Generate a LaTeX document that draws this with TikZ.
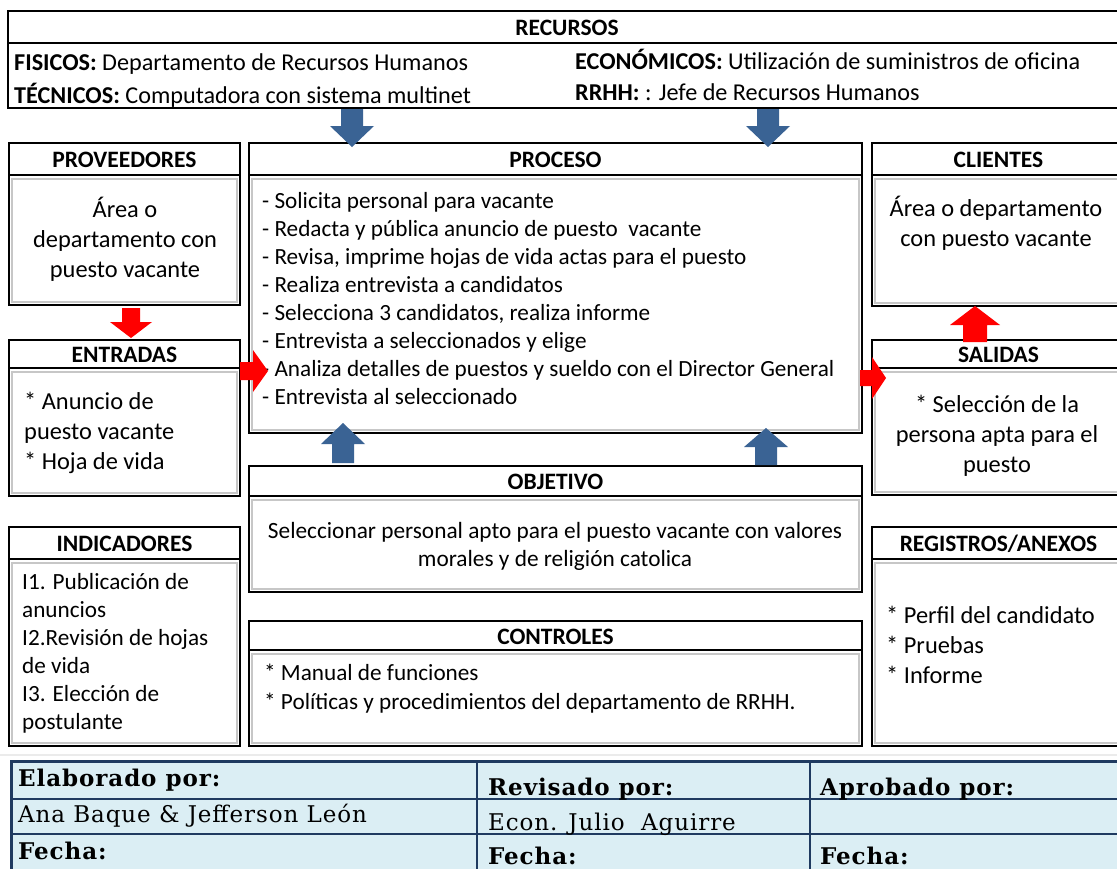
\documentclass[tikz,border=0pt]{standalone}
\usepackage{fontspec}
\setmainfont{Carlito}
\newfontfamily\tabfont[LetterSpace=4]{DejaVu Serif}
\definecolor{arrblue}{HTML}{3A6394}
\definecolor{arrred}{HTML}{FF0000}
\definecolor{tabfill}{HTML}{DBEEF4}
\definecolor{tabline}{HTML}{1F3A60}
% panel: name, x1, y1, x2, y2, y of header line, title
\newcommand\panelbox[7]{%
  \draw[innerframe] (#2+3,#6+4) rectangle (#4-3,#5-3);
  \draw[frame] (#2,#3) rectangle (#4,#5);
  \draw[frame] (#2,#6) -- (#4,#6);
  \node[head] (#1) at ({(#2+#4)/2},{(#3+#6)/2+1}) {#7};
}
% vertical block arrow: cx, y start, y head base, y tip, half shaft, half head, colour
\newcommand\blockvert[7]{%
  \fill[#7] (#1-#5,#2) -- (#1+#5,#2) -- (#1+#5,#3) -- (#1+#6,#3) -- (#1,#4)
    -- (#1-#6,#3) -- (#1-#5,#3) -- cycle;
}
% horizontal block arrow: cy, x start, x head base, x tip, half shaft, half head, colour
\newcommand\blockhorz[7]{%
  \fill[#7] (#2,#1-#5) -- (#2,#1+#5) -- (#3,#1+#5) -- (#3,#1+#6) -- (#4,#1)
    -- (#3,#1-#6) -- (#3,#1-#5) -- cycle;
}
\begin{document}
\begin{tikzpicture}[x=1pt,y=-1pt,
  frame/.style={draw=black,line width=2pt},
  innerframe/.style={draw=black!22,line width=1.6pt},
  head/.style={font=\fontsize{23.5}{26}\selectfont\bfseries,inner sep=0pt},
  bodyl/.style={font=\fontsize{23.2}{28}\selectfont,inner sep=0pt,align=left,anchor=north west},
  bodyc/.style={font=\fontsize{24.4}{30}\selectfont,inner sep=0pt,align=center,anchor=north},
  tabb/.style={font=\tabfont\bfseries\fontsize{23}{26}\selectfont,inner sep=0pt,anchor=base west},
  tabr/.style={font=\tabfont\fontsize{23}{26}\selectfont,inner sep=0pt,anchor=base west},
]
\useasboundingbox (0,0) rectangle (1117,868);
\fill[white] (0,0) rectangle (1117,868);

% RECURSOS
\draw[frame] (8,11) rectangle (1125,108);
\draw[frame] (8,43) -- (1125,43);
\node[head] (recursos) at (567,28) {RECURSOS};
\node[font=\fontsize{24.2}{33}\selectfont,inner sep=0pt,align=left,anchor=north west]
  (recl) at (14,53) {\textbf{FISICOS:} Departamento de Recursos Humanos\\
  \textbf{TÉCNICOS:} Computadora con sistema multinet};
\node[font=\fontsize{24.2}{31}\selectfont,inner sep=0pt,align=left,anchor=north west]
  (recr) at (575,49) {\textbf{ECONÓMICOS:} Utilización de suministros de oficina\\
  \textbf{RRHH:} : Jefe de Recursos Humanos};

% panels
\panelbox{proveedores}{9}{143}{240}{305}{175}{PROVEEDORES}
\panelbox{proceso}{249}{143}{862}{433}{175}{PROCESO}
\panelbox{clientes}{872}{143}{1125}{306}{175}{CLIENTES}
\panelbox{entradas}{9}{340}{240}{496}{368}{ENTRADAS}
\panelbox{salidas}{872}{340}{1125}{495}{368}{SALIDAS}
\panelbox{objetivo}{249}{466}{862}{592}{496}{OBJETIVO}
\panelbox{indicadores}{9}{527}{240}{746}{559}{INDICADORES}
\panelbox{registros}{872}{527}{1125}{746}{559}{REGISTROS/ANEXOS}
\panelbox{controles}{249}{621}{862}{746}{650}{CONTROLES}

% texts
\node[bodyc] (provtxt) at (125,197) {Área o\\departamento con\\puesto vacante};
\node[bodyc] (clitxt) at (996,196) {Área o departamento\\con puesto vacante};
\node[bodyl] (proctxt) at (262,192) {- Solicita personal para vacante\\
- Redacta y pública anuncio de puesto\ \ vacante\\
- Revisa, imprime hojas de vida actas para el puesto\\
- Realiza entrevista a candidatos\\
- Selecciona 3 candidatos, realiza informe\\
- Entrevista a seleccionados y elige\\
- Analiza detalles de puestos y sueldo con el Director General\\
- Entrevista al seleccionado};
\node[bodyl,font=\fontsize{24.4}{30}\selectfont] (enttxt) at (24,392) {* Anuncio de\\puesto vacante\\* Hoja de vida};
\node[bodyc] (saltxt) at (997,395) {* Selección de la\\persona apta para el\\puesto};
\node[bodyc,font=\fontsize{23.3}{28}\selectfont] (objtxt) at (555,522) {Seleccionar personal apto para el puesto vacante con valores\\morales y de religión catolica};
\node[bodyl] (indtxt) at (22,573) {I1. Publicación de\\anuncios\\I2.Revisión de hojas\\de vida\\I3. Elección de\\postulante};
\node[bodyl,font=\fontsize{24.4}{30}\selectfont] (regtxt) at (886,606) {* Perfil del candidato\\* Pruebas\\* Informe};
\node[bodyl,font=\fontsize{23.2}{29}\selectfont] (contxt) at (264,664) {* Manual de funciones\\* Políticas y procedimientos del departamento de RRHH.};

% block arrows
\blockvert{352}{109}{126}{147}{11}{22}{arrblue}
\blockvert{768}{109}{126}{147}{11}{22}{arrblue}
\blockvert{343}{463}{444}{423}{11}{22}{arrblue}
\blockvert{766}{465}{447}{428}{11}{22}{arrblue}
\blockvert{131}{308}{322}{338}{9}{21}{arrred}
\blockhorz{371}{240}{253}{268}{9}{21}{arrred}
\blockhorz{378}{860}{872}{886}{8}{21}{arrred}
\blockvert{975}{342}{325}{306}{12}{25}{arrred}

% signature table
\draw[black!8,line width=1.5pt] (0,755) -- (1117,755);
\fill[tabfill] (11,761) rectangle (1125,880);
\draw[tabline,line width=1.4pt] (11,799) -- (1125,799) (11,834) -- (1125,834)
  (477,761) -- (477,880) (810,761) -- (810,880);
\draw[tabline,line width=3pt] (11,880) -- (11,761) -- (1125,761);
\node[tabb] (elab) at (18,786) {Elaborado por:};
\node[tabr] (elabn) at (18,822) {Ana Baque \& Jefferson León};
\node[tabb] (elabf) at (18,859) {Fecha:};
\node[tabb] (rev) at (488,795) {Revisado por:};
\node[tabr] (revn) at (488,830) {Econ. Julio\ \ Aguirre};
\node[tabb] (revf) at (488,864) {Fecha:};
\node[tabb] (apr) at (820,795) {Aprobado por:};
\node[tabb] (aprf) at (820,864) {Fecha:};
\end{tikzpicture}
\end{document}
